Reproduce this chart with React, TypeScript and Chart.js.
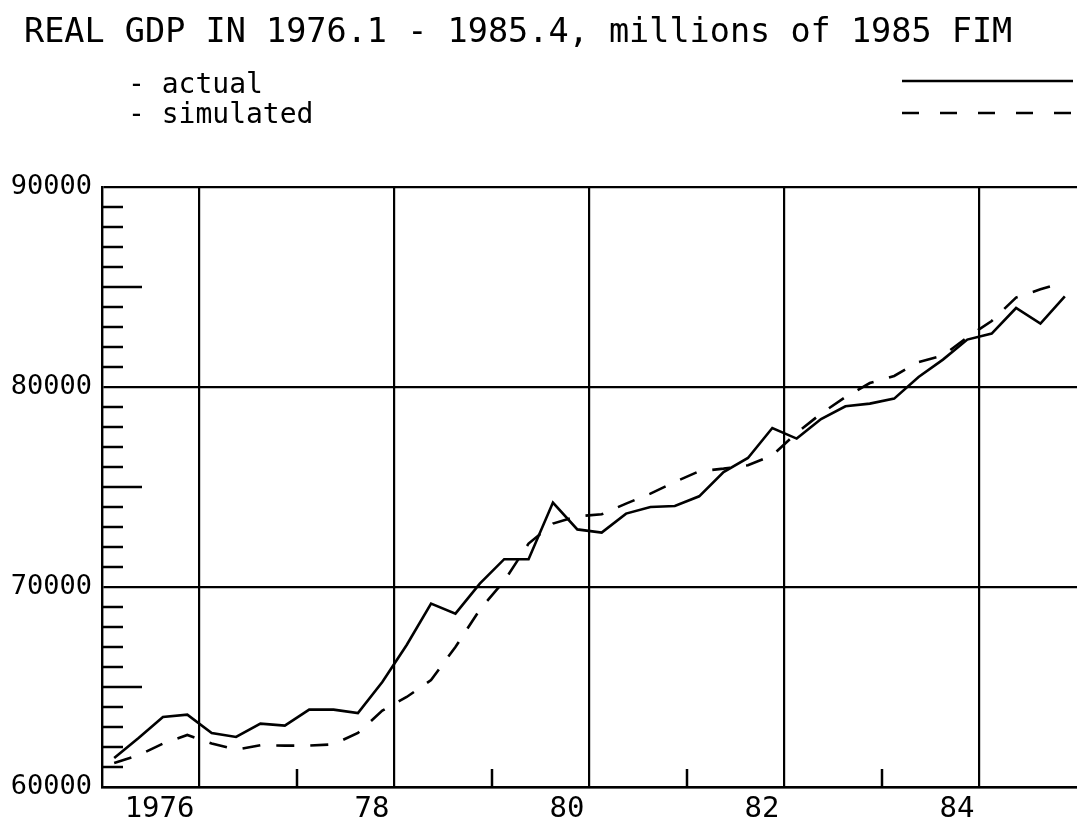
import React, { useEffect, useRef } from 'react';
import { Chart, registerables } from 'chart.js';

Chart.register(...registerables);

const TITLE = 'REAL GDP IN 1976.1 - 1985.4, millions of 1985 FIM';
const SERIES_LABELS = ['actual', 'simulated'];

const QUARTERS = [
  '1976.1', '1976.2', '1976.3', '1976.4',
  '1977.1', '1977.2', '1977.3', '1977.4',
  '1978.1', '1978.2', '1978.3', '1978.4',
  '1979.1', '1979.2', '1979.3', '1979.4',
  '1980.1', '1980.2', '1980.3', '1980.4',
  '1981.1', '1981.2', '1981.3', '1981.4',
  '1982.1', '1982.2', '1982.3', '1982.4',
  '1983.1', '1983.2', '1983.3', '1983.4',
  '1984.1', '1984.2', '1984.3', '1984.4',
  '1985.1', '1985.2', '1985.3', '1985.4',
];

const ACTUAL = [
  61450, 62450, 63500, 63620,
  62700, 62500, 63170, 63070,
  63870, 63870, 63700, 65250,
  67100, 69170, 68670, 70170,
  71390, 71390, 74220, 72880,
  72720, 73670, 74000, 74050,
  74535, 75750, 76450, 77950,
  77420, 78400, 79035, 79170,
  79420, 80500, 81370, 82370,
  82670, 83950, 83170, 84535,
];

const SIMULATED = [
  61200, 61585, 62170, 62600,
  62170, 61870, 62085, 62070,
  62070, 62135, 62700, 63820,
  64500, 65350, 67000, 68870,
  70300, 72170, 73170, 73535,
  73635, 74170, 74670, 75250,
  75785, 75920, 76085, 76585,
  77700, 78670, 79500, 80200,
  80550, 81250, 81570, 82485,
  83300, 84470, 84885, 85250,
];

const X_TICK_LABELS = ['1976', '78', '80', '82', '84'];
const X_MIN = 1976;
const X_MAX = 1986;
const Y_MIN = 60000;
const Y_MAX = 90000;
const Y_MAJOR = 10000;
const Y_MID = 5000;
const Y_MINOR = 1000;

const FONT = '"DejaVu Sans Mono", "Liberation Mono", monospace';

function quarterToYear(q: string): number {
  const [y, n] = q.split('.').map(Number);
  return y + (n - 0.5) / 4;
}

const headerPlugin = {
  id: 'headerPlugin',
  afterDraw(chart: any) {
    const ctx = chart.ctx as CanvasRenderingContext2D;
    ctx.save();
    ctx.fillStyle = '#000';
    ctx.textBaseline = 'alphabetic';
    ctx.textAlign = 'left';
    ctx.font = `33.5px ${FONT}`;
    ctx.fillText(TITLE, 24, 42);
    ctx.font = `28px ${FONT}`;
    chart.data.datasets.forEach((ds: any, i: number) => {
      ctx.fillText('- ' + ds.label, 128, 93 + i * 30);
      const ly = 81 + i * 32;
      ctx.strokeStyle = ds.borderColor;
      ctx.lineWidth = 2.4;
      ctx.setLineDash(ds.borderDash && ds.borderDash.length ? [17, 21] : []);
      ctx.beginPath();
      ctx.moveTo(902, ly);
      ctx.lineTo(1073, ly);
      ctx.stroke();
    });
    ctx.restore();
  },
};

const innerTicksPlugin = {
  id: 'innerTicksPlugin',
  afterDraw(chart: any) {
    const { ctx, chartArea, scales } = chart;
    const c = ctx as CanvasRenderingContext2D;
    c.save();
    c.strokeStyle = '#000';
    c.lineWidth = 2.5;
    c.setLineDash([]);
    scales.y.ticks.forEach((t: any) => {
      if (t.value % Y_MAJOR === 0) return;
      const y = scales.y.getPixelForValue(t.value);
      const len = t.value % Y_MID === 0 ? 40 : 21;
      c.beginPath();
      c.moveTo(chartArea.left, y);
      c.lineTo(chartArea.left + len, y);
      c.stroke();
    });
    scales.x.ticks.forEach((t: any) => {
      if (t.value % 2 !== 0 || t.value <= X_MIN || t.value >= X_MAX) return;
      const x = scales.x.getPixelForValue(t.value);
      c.beginPath();
      c.moveTo(x, chartArea.bottom);
      c.lineTo(x, chartArea.bottom - 18);
      c.stroke();
    });
    c.restore();
  },
};

export default function App() {
  const canvasRef = useRef<HTMLCanvasElement | null>(null);

  useEffect(() => {
    if (!canvasRef.current) return;
    const xs = QUARTERS.map(quarterToYear);
    const chart = new Chart(canvasRef.current, {
      type: 'line',
      data: {
        datasets: [
          {
            label: SERIES_LABELS[0],
            data: ACTUAL.map((v, i) => ({ x: xs[i], y: v })),
            borderColor: '#000',
            borderWidth: 2.6,
            pointRadius: 0,
            tension: 0,
            fill: false,
          },
          {
            label: SERIES_LABELS[1],
            data: SIMULATED.map((v, i) => ({ x: xs[i], y: v })),
            borderColor: '#000',
            borderWidth: 2.6,
            borderDash: [18, 16],
            pointRadius: 0,
            tension: 0,
            fill: false,
          },
        ],
      },
      options: {
        responsive: false,
        animation: false,
        devicePixelRatio: 1,
        layout: { autoPadding: false, padding: { top: 187, left: 0, right: -4, bottom: 0 } },
        plugins: {
          legend: { display: false },
          title: { display: false },
          tooltip: { enabled: false },
        },
        scales: {
          x: {
            type: 'linear',
            min: X_MIN,
            max: X_MAX,
            afterFit: (s: any) => { s.height = 36; s.paddingLeft = 0; s.paddingRight = 0; },
            border: { display: true, color: '#000', width: 2.4 },
            grid: {
              drawTicks: false,
              lineWidth: 2.2,
              color: (ctx: any) => {
                const v = ctx.tick ? ctx.tick.value : 0;
                return v % 2 === 1 ? '#000' : 'rgba(0,0,0,0)';
              },
            },
            ticks: {
              stepSize: 1,
              autoSkip: false,
              maxRotation: 0,
              minRotation: 0,
              align: 'end',
              labelOffset: -5,
              padding: 5,
              color: '#000',
              font: { family: FONT, size: 29 },
              callback: (value: any) => {
                const v = Number(value);
                if (v % 2 !== 1) return '';
                const idx = (v - 1977) / 2;
                return X_TICK_LABELS[idx] ?? '';
              },
            },
          },
          y: {
            type: 'linear',
            min: Y_MIN,
            max: Y_MAX,
            afterFit: (s: any) => { s.width = 102; s.paddingTop = 0; s.paddingBottom = 0; },
            border: { display: true, color: '#000', width: 2.4 },
            grid: {
              drawTicks: false,
              lineWidth: 2.2,
              color: (ctx: any) => {
                const v = ctx.tick ? ctx.tick.value : 0;
                return v % Y_MAJOR === 0 ? '#000' : 'rgba(0,0,0,0)';
              },
            },
            ticks: {
              stepSize: Y_MINOR,
              autoSkip: false,
              padding: 10,
              color: '#000',
              font: { family: FONT, size: 27 },
              callback: (value: any) => {
                const v = Number(value);
                return v % Y_MAJOR === 0 ? String(v) : '';
              },
            },
          },
        },
      },
      plugins: [headerPlugin, innerTicksPlugin],
    } as any);
    return () => chart.destroy();
  }, []);

  return (
    <div style={{ position: 'absolute', left: 0, top: 0, width: 1077, height: 823, background: '#fff' }}>
      <canvas ref={canvasRef} width={1077} height={823} style={{ display: 'block' }} />
    </div>
  );
}
